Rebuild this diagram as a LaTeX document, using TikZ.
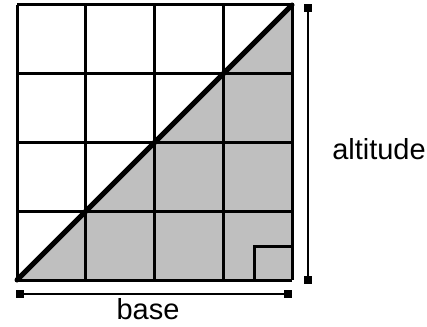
\documentclass[tikz,border=0pt]{standalone}
\usepackage{fontspec}
\setmainfont{Liberation Sans}
\usetikzlibrary{arrows.meta}

\begin{document}
\begin{tikzpicture}[x=1pt, y=-1pt, every node/.style={font=\fontsize{29}{34}\selectfont}]

\useasboundingbox (0,0) rectangle (427,326);

\coordinate (bl) at (17,280);
\coordinate (tr) at (292,5);
\coordinate (br) at (292,280);

% shaded half
\fill[gray!50] (bl) -- (tr) -- (br) -- cycle;

% grid
\foreach \i in {0,...,4} {
  \draw[line width=3pt] (17+68.75*\i,5) -- (17+68.75*\i,280);
  \draw[line width=3pt] (17,5+68.75*\i) -- (292,5+68.75*\i);
}

% right angle mark
\draw[line width=3pt] (254,280) -- (254,246) -- (292,246);

% diagonal
\draw[line width=5pt, line cap=round] (bl) -- (tr);

% measures
\coordinate (b1) at (16,294);
\coordinate (b2) at (292,294);
\coordinate (a1) at (308,4);
\coordinate (a2) at (308,284);
\draw[line width=2.5pt, {Square[length=8pt,width=8pt]}-{Square[length=8pt,width=8pt]}] (b1) -- (b2);
\draw[line width=2.5pt, {Square[length=8pt,width=8pt]}-{Square[length=8pt,width=8pt]}] (a1) -- (a2);

\node[inner sep=0pt, anchor=base] (base) at (148,319) {base};
\node (altitude) at (379,149) {altitude};

\end{tikzpicture}
\end{document}
